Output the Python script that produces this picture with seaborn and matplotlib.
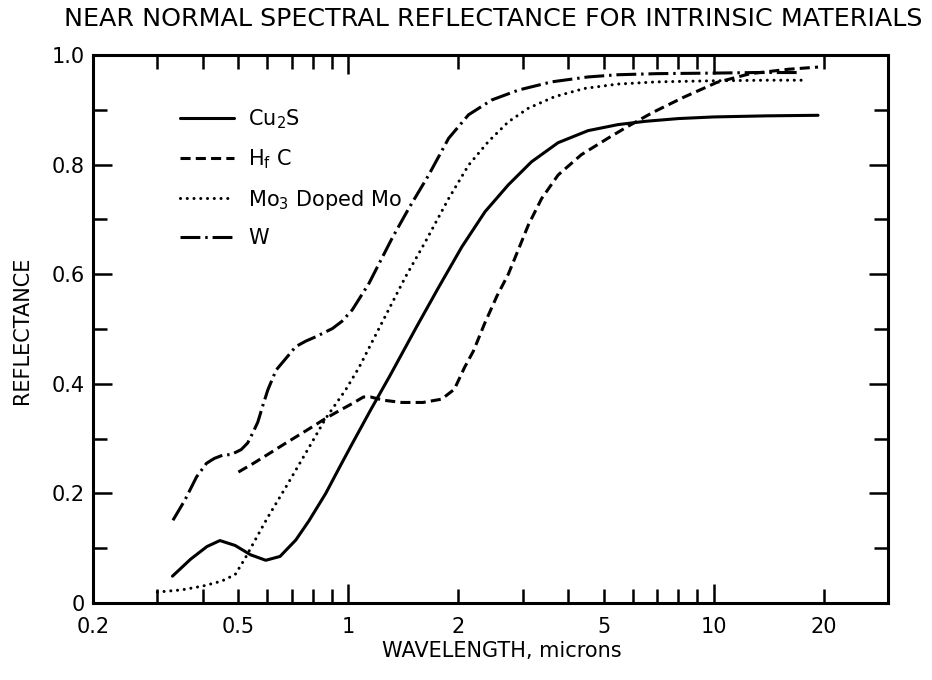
import matplotlib
matplotlib.use("Agg")
import matplotlib.pyplot as plt
from matplotlib.lines import Line2D
from matplotlib.ticker import FixedLocator, FixedFormatter, NullFormatter
import seaborn as sns

# --- data (wavelength in microns, reflectance) ---
cu2s_x = [0.33, 0.37, 0.41, 0.445, 0.49, 0.54, 0.594, 0.65, 0.718, 0.78, 0.867, 0.95, 1.025,
          1.15, 1.3, 1.54, 1.766, 2.045, 2.366, 2.74, 3.17, 3.75, 4.53, 5.47, 6.5, 8.0, 10.0,
          14.0, 19.3]
cu2s_y = [0.049, 0.080, 0.103, 0.114, 0.105, 0.088, 0.078, 0.085, 0.115, 0.150, 0.200, 0.250,
          0.291, 0.352, 0.415, 0.505, 0.576, 0.650, 0.714, 0.763, 0.805, 0.840, 0.862, 0.873,
          0.879, 0.884, 0.887, 0.889, 0.890]

hfc_x = [0.50, 0.55, 0.608, 0.66, 0.718, 0.79, 0.867, 0.95, 1.025, 1.10, 1.15, 1.25, 1.4,
         1.6, 1.8, 1.95, 2.08, 2.2, 2.36, 2.55, 2.74, 2.92, 3.11, 3.38, 3.75, 4.34, 5.13,
         5.83, 6.8, 8.28, 10.2, 12.6, 16.0, 19.3]
hfc_y = [0.239, 0.255, 0.273, 0.288, 0.303, 0.320, 0.337, 0.352, 0.364, 0.376, 0.376, 0.370,
         0.366, 0.366, 0.372, 0.390, 0.430, 0.460, 0.510, 0.560, 0.600, 0.645, 0.690, 0.738,
         0.781, 0.818, 0.848, 0.870, 0.895, 0.923, 0.950, 0.966, 0.974, 0.978]

mo_x = [0.30, 0.35, 0.40, 0.45, 0.49, 0.52, 0.559, 0.60, 0.675, 0.782, 0.867, 0.983, 1.07,
        1.15, 1.25, 1.433, 1.624, 1.881, 2.133, 2.416, 2.74, 3.11, 3.67, 4.43, 5.47, 7.0,
        10.0, 14.0, 18.0]
mo_y = [0.020, 0.024, 0.031, 0.040, 0.052, 0.080, 0.118, 0.155, 0.212, 0.285, 0.337, 0.389,
        0.430, 0.471, 0.518, 0.595, 0.659, 0.738, 0.799, 0.842, 0.878, 0.903, 0.924, 0.939,
        0.947, 0.951, 0.953, 0.954, 0.954]

w_x = [0.331, 0.357, 0.384, 0.409, 0.43, 0.454, 0.478, 0.509, 0.53, 0.547, 0.565, 0.583,
       0.602, 0.634, 0.668, 0.718, 0.765, 0.815, 0.905, 0.96, 1.025, 1.138, 1.318, 1.463,
       1.659, 1.881, 2.133, 2.47, 2.92, 3.6, 4.53, 5.47, 7.0, 10.0, 13.0, 17.0]
w_y = [0.151, 0.188, 0.230, 0.255, 0.264, 0.270, 0.271, 0.280, 0.292, 0.310, 0.330, 0.360,
       0.389, 0.425, 0.443, 0.468, 0.478, 0.486, 0.501, 0.514, 0.535, 0.583, 0.666, 0.720,
       0.781, 0.848, 0.891, 0.918, 0.936, 0.951, 0.960, 0.964, 0.966, 0.967, 0.968, 0.968]

labels = ["Cu$_2$S", "H$_\\mathrm{f}$ C", "Mo$_3$ Doped Mo", "W"]

x_tick_vals = [0.2, 0.3, 0.4, 0.5, 0.6, 0.7, 0.8, 0.9, 2, 3, 4, 5, 6, 7, 8, 9, 20]
x_tick_text = ["0.2", "", "", "0.5", "", "", "", "", "2", "", "", "5", "", "", "", "", "20"]
y_tick_vals = [0, 0.2, 0.4, 0.6, 0.8, 1.0]
y_tick_text = ["0", "0.2", "0.4", "0.6", "0.8", "1.0"]

sns.set_theme(style="ticks")
plt.rcParams['font.family'] = ['DejaVu Sans']
plt.rcParams['mathtext.fontset'] = 'dejavusans'
plt.rcParams['text.color'] = 'black'
plt.rcParams['axes.labelcolor'] = 'black'

fig = plt.figure(figsize=(9.32, 6.8), dpi=100)
ax = fig.add_axes([0.0998, 0.1132, 0.8530, 0.8059])

lw = 2.2
styles = [
    dict(linestyle="-"),
    dict(linestyle=(0, (3.3, 1.7))),
    dict(linestyle=(0, (0.01, 2.2)), dash_capstyle="round"),
    dict(linestyle=(0, (6.5, 1.6, 0.8, 1.6))),
]
series = [(cu2s_x, cu2s_y), (hfc_x, hfc_y), (mo_x, mo_y), (w_x, w_y)]

for (xs, ys), st in zip(series, styles):
    sns.lineplot(x=xs, y=ys, ax=ax, color="black", linewidth=lw, sort=False,
                 estimator=None, legend=False, **st)

ax.set_xscale("log")
ax.set_xlim(0.2, 30)
ax.set_ylim(0, 1.0)

# x axis: long ticks at decades, short ones elsewhere
ax.xaxis.set_major_locator(FixedLocator([1, 10]))
ax.xaxis.set_major_formatter(FixedFormatter(["1", "10"]))
ax.xaxis.set_minor_locator(FixedLocator(x_tick_vals))
ax.xaxis.set_minor_formatter(FixedFormatter(x_tick_text))

ax.yaxis.set_major_locator(FixedLocator(y_tick_vals))
ax.yaxis.set_major_formatter(FixedFormatter(y_tick_text))
ax.yaxis.set_minor_locator(FixedLocator([0.1, 0.3, 0.5, 0.7, 0.9]))
ax.yaxis.set_minor_formatter(NullFormatter())

ax.tick_params(which="both", direction="in", top=True, right=True, colors="black",
               labelcolor="black", labelsize=15, width=1.8)
ax.tick_params(which="major", length=14)
ax.tick_params(which="minor", length=10)
ax.tick_params(axis="x", which="both", pad=10)
ax.tick_params(axis="y", which="both", pad=6)

for sp in ax.spines.values():
    sp.set_linewidth(2.2)
    sp.set_color("black")

handles = [Line2D([], [], color="black", linewidth=lw, **st) for st in styles]
ax.legend(handles, labels, loc="upper left", bbox_to_anchor=(0.109, 0.905),
          frameon=False, fontsize=15, handlelength=2.6, handletextpad=0.7,
          labelspacing=0.8, borderpad=0, borderaxespad=0)

fig.text(493 / 932, 1 - 19 / 680, "NEAR NORMAL SPECTRAL REFLECTANCE FOR INTRINSIC MATERIALS",
         ha="center", va="center", fontsize=18.3, color="black")
fig.text(502 / 932, 1 - 651 / 680, "WAVELENGTH, microns", ha="center", va="center",
         fontsize=15, color="black")
fig.text(22 / 932, 1 - 330 / 680, "REFLECTANCE", ha="center", va="center",
         rotation=90, fontsize=15, color="black")

fig.savefig("out.png", dpi=100)
